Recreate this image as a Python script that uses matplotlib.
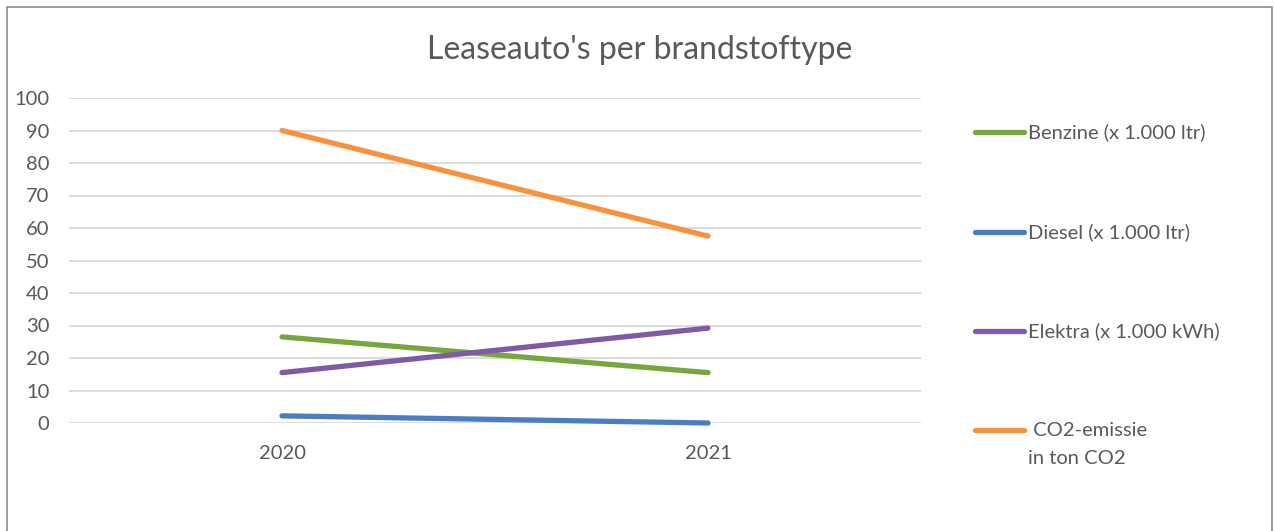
import matplotlib.pyplot as plt
from matplotlib.lines import Line2D
from matplotlib.patches import Rectangle

# data
years = ["2020", "2021"]
benzine = [26.5, 15.5]
diesel = [2.2, 0.0]
elektra = [15.5, 29.2]
co2 = [90.0, 57.5]

labels = ["Benzine (x 1.000 ltr)", "Diesel (x 1.000 ltr)",
          "Elektra (x 1.000 kWh)", " CO2-emissie\nin ton CO2"]
colors = ["#79A53F", "#4A7DC2", "#7F5AA5", "#F7923F"]
series = [benzine, diesel, elektra, co2]

plt.rcParams['font.family'] = ['Lato', 'DejaVu Sans']
text_col = "#595959"

W, H = 1275, 531
fig = plt.figure(figsize=(W / 100, H / 100), dpi=100)
ax = fig.add_axes([69 / W, 1 - 423 / H, (921 - 69) / W, (423 - 98) / H])

x = range(len(years))
for vals, col in zip(series, colors):
    ax.plot(x, vals, color=col, lw=3.8, solid_capstyle="round", clip_on=False, zorder=3)

ax.set_xlim(-0.5, 1.5)
ax.set_ylim(0, 100)
ax.set_yticks(range(0, 101, 10))
ax.set_xticks(list(x))
ax.set_xticklabels(years)
ax.grid(axis="y", color="#d9d9d9", lw=1.3)
ax.set_axisbelow(True)
for s in ax.spines.values():
    s.set_visible(False)
ax.tick_params(length=0, labelsize=14.5, colors=text_col)
ax.tick_params(axis="y", pad=14)
ax.tick_params(axis="x", pad=16)

fig.text(640 / W, 1 - 50 / H, "Leaseauto's per brandstoftype", ha="center", va="center",
         fontsize=23, color=text_col)

# legend drawn by hand to match the spacing
leg_y = [132, 232, 331, 430]
for lab, col, yy in zip(labels, colors, leg_y):
    fig.add_artist(Line2D([975 / W, 1024 / W], [1 - yy / H, 1 - yy / H], color=col, lw=3.8,
                          solid_capstyle="round", transform=fig.transFigure))
    if "\n" in lab:
        first, second = lab.split("\n")
        fig.text(1028 / W, 1 - yy / H, first, ha="left", va="center",
                 fontsize=14.5, color=text_col)
        fig.text(1028 / W, 1 - (yy + 29) / H, second, ha="left", va="center",
                 fontsize=14.5, color=text_col)
    else:
        fig.text(1028 / W, 1 - yy / H, lab, ha="left", va="center",
                 fontsize=14.5, color=text_col)

fig.add_artist(Rectangle((7 / W, -0.1), 1265 / W, 1.1 - 7 / H, fill=False,
                         ec="#8c8c8c", lw=1.2, transform=fig.transFigure))

fig.savefig("out.png", dpi=100)
